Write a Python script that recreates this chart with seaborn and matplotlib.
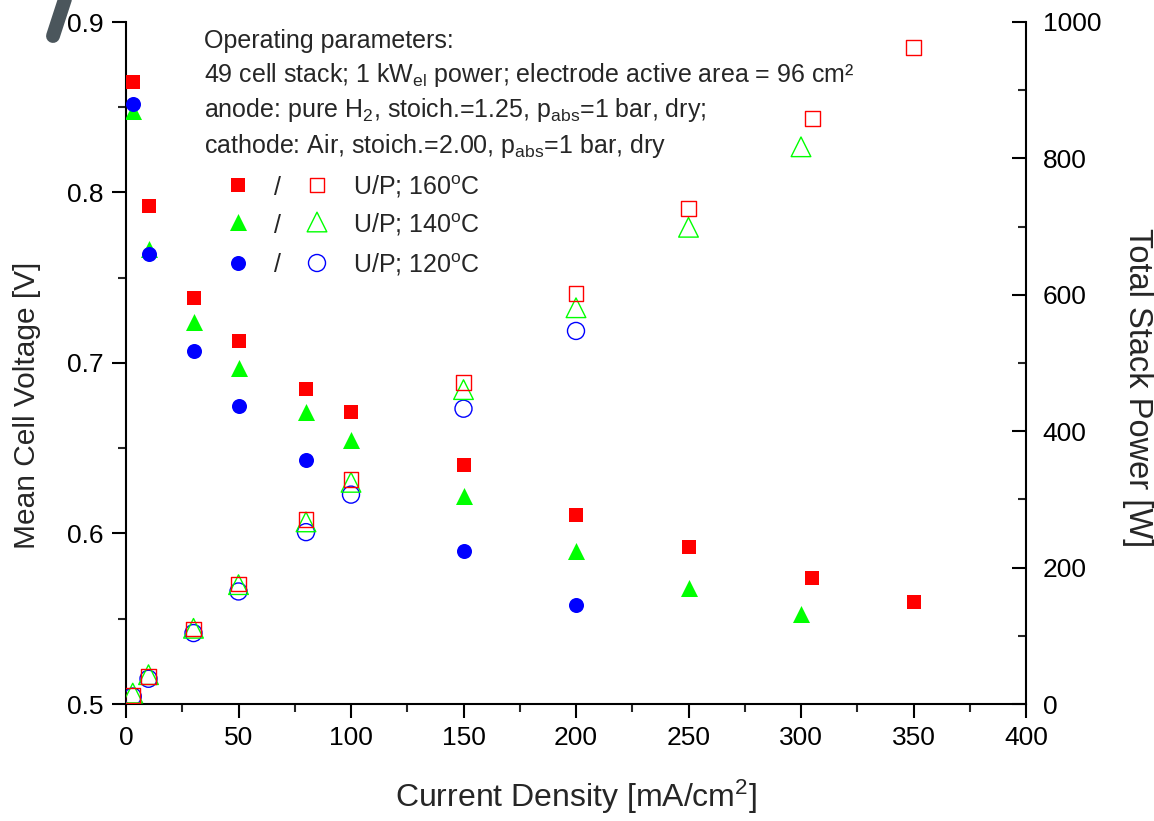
import matplotlib
matplotlib.use("Agg")
import matplotlib.pyplot as plt
from matplotlib.lines import Line2D
from matplotlib.ticker import MultipleLocator
import seaborn as sns

# Mean cell voltage [V] vs current density [mA/cm2]
j_v160 = [3, 10, 30, 50, 80, 100, 150, 200, 250, 305, 350]
v160 = [0.865, 0.792, 0.738, 0.713, 0.685, 0.671, 0.640, 0.611, 0.592, 0.574, 0.560]
j_v140 = [3, 10, 30, 50, 80, 100, 150, 200, 250, 300]
v140 = [0.848, 0.767, 0.724, 0.697, 0.671, 0.655, 0.622, 0.590, 0.568, 0.553]
j_v120 = [3, 10, 30, 50, 80, 150, 200]
v120 = [0.852, 0.764, 0.707, 0.675, 0.643, 0.590, 0.558]

# Total stack power [W] vs current density [mA/cm2]
j_p160 = [3, 10, 30, 50, 80, 100, 150, 200, 250, 305, 350]
p160 = [13, 40, 110, 176, 270, 329, 471, 602, 726, 859, 962]
j_p140 = [3, 10, 30, 50, 80, 100, 150, 200, 250, 300]
p140 = [16, 43, 111, 175, 267, 325, 461, 581, 699, 817]
j_p120 = [3, 10, 30, 50, 80, 100, 150, 200]
p120 = [11, 37, 104, 165, 252, 307, 433, 547]

legend_labels = ["U/P; 160$^{\\mathrm{o}}$C", "U/P; 140$^{\\mathrm{o}}$C", "U/P; 120$^{\\mathrm{o}}$C"]
note_lines = [
    "Operating parameters:",
    "49 cell stack; 1 kW$_{\\mathrm{el}}$ power; electrode active area = 96 cm\u00b2",
    "anode: pure H$_{2}$, stoich.=1.25, p$_{\\mathrm{abs}}$=1 bar, dry;",
    "cathode: Air, stoich.=2.00, p$_{\\mathrm{abs}}$=1 bar, dry",
]

RED, GREEN, BLUE = "#ff0000", "#00ff00", "#0000ff"

sns.set_style("ticks")
plt.rcParams["font.family"] = ["Liberation Sans", "DejaVu Sans"]
plt.rcParams["mathtext.fontset"] = "custom"
plt.rcParams["mathtext.rm"] = "Liberation Sans"
plt.rcParams["mathtext.it"] = "Liberation Sans:italic"
plt.rcParams["mathtext.bf"] = "Liberation Sans:bold"

W, H = 1154, 821
fig = plt.figure(figsize=(W / 100, H / 100), dpi=100)
ax = fig.add_axes([126 / W, 1 - 704 / H, 900 / W, 682 / H])
ax2 = ax.twinx()

# filled symbols: voltage
sns.scatterplot(x=j_v160, y=v160, marker="s", s=88, color=RED, edgecolor=RED, linewidth=0, ax=ax, zorder=3)
sns.scatterplot(x=j_v140, y=v140, marker="^", s=150, color=GREEN, edgecolor=GREEN, linewidth=0, ax=ax, zorder=3)
sns.scatterplot(x=j_v120, y=v120, marker="o", s=117, color=BLUE, edgecolor=BLUE, linewidth=0, ax=ax, zorder=3)

# open symbols: power
sns.scatterplot(x=j_p120, y=p120, marker="o", s=150, facecolor="none", edgecolor=BLUE, linewidth=1.0, ax=ax2, zorder=3)
sns.scatterplot(x=j_p140, y=p140, marker="^", s=200, facecolor="none", edgecolor=GREEN, linewidth=1.0, ax=ax2, zorder=3)
sns.scatterplot(x=j_p160, y=p160, marker="s", s=115, facecolor="none", edgecolor=RED, linewidth=1.0, ax=ax2, zorder=3)

ax.set_xlim(0, 400)
ax.set_ylim(0.5, 0.9)
ax2.set_ylim(0, 1000)

ax.xaxis.set_major_locator(MultipleLocator(50))
ax.xaxis.set_minor_locator(MultipleLocator(25))
ax.yaxis.set_major_locator(MultipleLocator(0.1))
ax.yaxis.set_minor_locator(MultipleLocator(0.05))
ax2.yaxis.set_major_locator(MultipleLocator(200))
ax2.yaxis.set_minor_locator(MultipleLocator(100))
ax.yaxis.set_major_formatter(plt.FuncFormatter(lambda v, p: f"{v:.1f}"))

for s in ["top", "right"]:
    ax.spines[s].set_visible(False)
for s in ["top", "left", "bottom"]:
    ax2.spines[s].set_visible(False)
for sp in [ax.spines["left"], ax.spines["bottom"], ax2.spines["right"]]:
    sp.set_linewidth(1.5)
    sp.set_color("black")

ax.tick_params(axis="both", which="major", direction="out", length=10, width=1.5,
               labelsize=19, colors="black")
ax.tick_params(axis="both", which="minor", direction="out", length=6, width=1.5)
ax.tick_params(axis="x", which="major", pad=6)
ax.tick_params(axis="y", which="major", pad=6)
ax2.tick_params(axis="y", which="major", direction="in", length=10, width=1.5,
                labelsize=19, pad=12, colors="black")
ax2.tick_params(axis="y", which="minor", direction="in", length=6, width=1.5)

ax.set_xlabel("Current Density [mA/cm$^{2}$]", fontsize=23)
ax.xaxis.label.set(ha="center", va="center")
ax.xaxis.set_label_coords(0.5, (704 - 797) / 682)

ax.set_ylabel("Mean Cell Voltage [V]", fontsize=21.5)
ax.yaxis.label.set(ha="center", va="center", rotation_mode="default")
ax.yaxis.set_label_coords((27 - 126) / 900, (704 - 405) / 682)

ax2.set_ylabel("Total Stack Power [W]", fontsize=23.5, rotation=270)
ax2.yaxis.label.set(ha="center", va="center", rotation_mode="default")
ax2.yaxis.set_label_coords((1137 - 126) / 900, (704 - 388) / 682)

# operating-parameter notes
note_y = [48, 82, 117, 153]
for txt, py in zip(note_lines, note_y):
    ax.text((204 - 126) / 900, (704 - py) / 682, txt, transform=ax.transAxes,
            fontsize=18, ha="left", va="baseline")

# symbol key: filled / open
key_rows = [
    ("s", RED, 88, 115, 185, 195),
    ("^", GREEN, 150, 200, 222, 233),
    ("o", BLUE, 117, 150, 263, 272),
]
to_fx = lambda px: (px - 126) / 900
to_fy = lambda py: (704 - py) / 682
for (mk, col, s_fill, s_open, py_m, py_t), lab in zip(key_rows, legend_labels):
    ax.scatter([to_fx(238)], [to_fy(py_m)], marker=mk, s=s_fill, color=col, linewidths=0,
               transform=ax.transAxes, clip_on=False, zorder=5)
    ax.scatter([to_fx(317)], [to_fy(py_m)], marker=mk, s=s_open, facecolors="none",
               edgecolors=col, linewidths=1.0, transform=ax.transAxes, clip_on=False, zorder=5)
    ax.text(to_fx(278), to_fy(py_t), "/", transform=ax.transAxes, fontsize=18,
            ha="center", va="baseline")
    ax.text(to_fx(353), to_fy(py_t), lab, transform=ax.transAxes, fontsize=18,
            ha="left", va="baseline")

# dark pen stroke at the upper left corner
fig.add_artist(Line2D([53 / W, 66 / W], [1 - 36 / H, 1 + 4 / H], transform=fig.transFigure,
                      color="#4b565c", lw=10, solid_capstyle="round"))

fig.savefig("out.png", dpi=100, facecolor="white")
